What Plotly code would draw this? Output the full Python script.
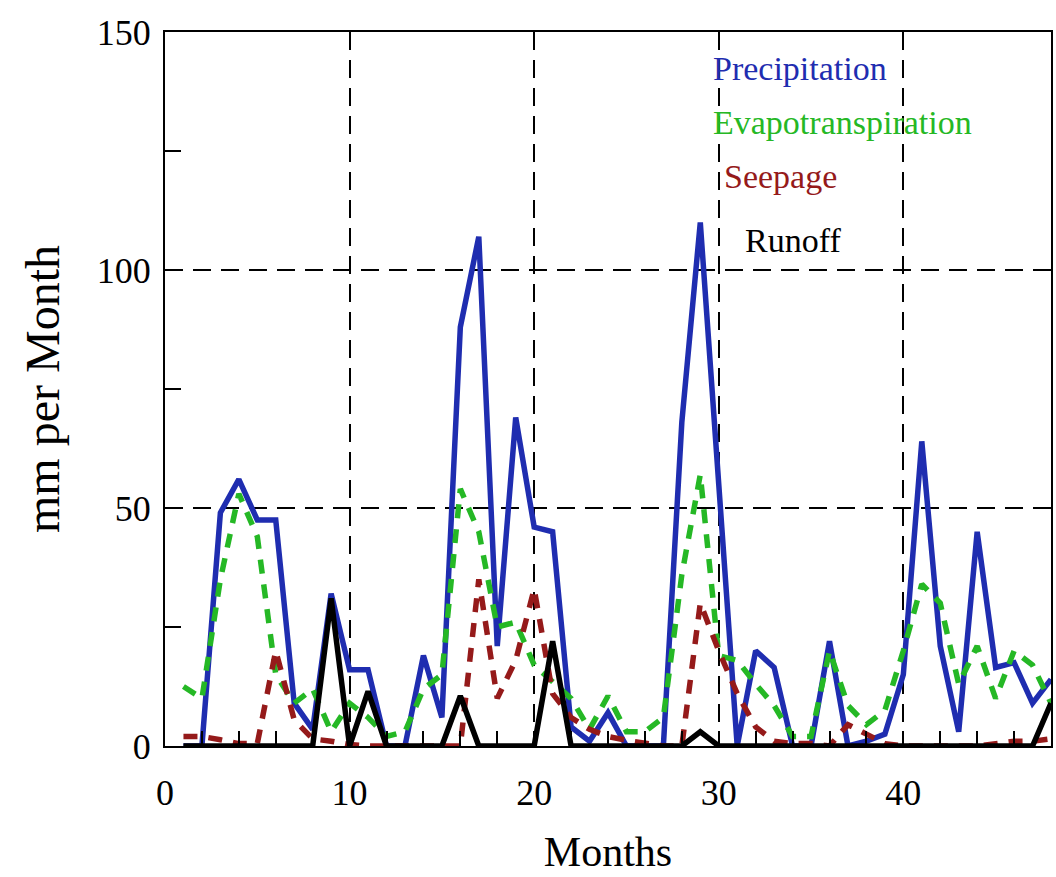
import plotly.graph_objects as go

months = list(range(1, 49))

precipitation = [0, 0, 49, 56, 47.5, 47.5, 9, 3.5, 32, 16,
                 16, 0, 0, 19, 6, 88, 107, 21, 69, 46,
                 45, 4, 1, 7, 0, 0, 0, 68, 110, 55,
                 0, 20, 16.5, 0, 0, 22, 0, 1, 2.5, 15,
                 64, 21, 3, 45, 16.5, 17.5, 9, 14]

evapotranspiration = [12.5, 10, 35, 53, 44, 15, 9, 12, 3, 9,
                      6, 2, 3, 12, 15, 54, 45, 25, 26, 17,
                      13.5, 10, 3.5, 10.5, 3, 3, 6, 36, 57, 19,
                      18, 13, 8.5, 2, 2, 20, 8.5, 4.5, 7.5, 20,
                      34, 30, 13, 21, 10, 20, 17, 9]

seepage = [2, 2, 1.3, 0.5, 0.5, 20, 5.5, 1.5, 1, 0.3,
           0, 0, 0, 0, 0, 0, 35, 10, 18, 33,
           11, 6, 3.5, 2, 1.2, 0.5, 0, 0, 30, 20,
           11, 4, 1, 0.5, 0.5, 0, 4.5, 2.5, 0.5, 0,
           0, 0, 0, 0, 0.5, 1, 1, 1.5]

runoff = [0, 0, 0, 0, 0, 0, 0, 0, 31, 0,
          11.5, 0, 0, 0, 0, 10.5, 0, 0, 0, 0,
          22, 0, 0, 0, 0, 0, 0, 0, 3, 0,
          0, 0, 0, 0, 0, 0, 0, 0, 0, 0,
          0, 0, 0, 0, 0, 0, 0, 9]

x_ticks = [0, 10, 20, 30, 40]
y_ticks = [0, 50, 100, 150]

BLUE = "#1f2db0"
GREEN = "#25b825"
RED = "#951a1a"
BLACK = "#000000"
SERIF = "Liberation Serif, Times New Roman, serif"

fig = go.Figure()
fig.add_trace(go.Scatter(x=months, y=precipitation, mode="lines",
                         line=dict(color=BLUE, width=5.5), name="Precipitation"))
fig.add_trace(go.Scatter(x=months, y=evapotranspiration, mode="lines",
                         line=dict(color=GREEN, width=5.5, dash="14px,11px"),
                         name="Evapotranspiration"))
fig.add_trace(go.Scatter(x=months, y=seepage, mode="lines",
                         line=dict(color=RED, width=5.5, dash="14px,11px"),
                         name="Seepage"))
fig.add_trace(go.Scatter(x=months, y=runoff, mode="lines",
                         line=dict(color=BLACK, width=5.5), name="Runoff"))

legend_items = [
    ("Precipitation", BLUE, 29.6, 142.4),
    ("Evapotranspiration", GREEN, 29.6, 131.0),
    ("Seepage", RED, 30.2, 119.7),
    ("Runoff", BLACK, 31.3, 106.3),
]
for text, color, ax_x, ax_y in legend_items:
    fig.add_annotation(x=ax_x, y=ax_y, xref="x", yref="y", text=text,
                       showarrow=False, xanchor="left", yanchor="middle",
                       font=dict(family=SERIF, size=34, color=color))

fig.update_layout(
    width=1056, height=877,
    margin=dict(l=165, r=3, t=32, b=131),
    paper_bgcolor="white", plot_bgcolor="white",
    showlegend=False,
    font=dict(family=SERIF, color="black"),
)
fig.update_xaxes(
    range=[0, 48], tickvals=x_ticks, ticktext=[str(v) for v in x_ticks],
    showline=True, linecolor="black", linewidth=2, mirror=True,
    ticks="inside", ticklen=15, tickcolor="black", tickwidth=1.5,
    showgrid=True, gridcolor="black", gridwidth=1.5, griddash="18px,10px",
    zeroline=False,
    minor=dict(dtick=2, tick0=0, ticks="inside", ticklen=15, tickcolor="black",
               tickwidth=1.5, showgrid=False),
    tickfont=dict(family=SERIF, size=36, color="black"),
    ticklabelstandoff=14,
    title=dict(text="Months", font=dict(family=SERIF, size=42, color="black"),
               standoff=24),
)
fig.update_yaxes(
    range=[0, 150], tickvals=y_ticks, ticktext=[str(v) for v in y_ticks],
    showline=True, linecolor="black", linewidth=2, mirror=True,
    ticks="inside", ticklen=15, tickcolor="black", tickwidth=1.5,
    showgrid=True, gridcolor="black", gridwidth=1.5, griddash="18px,10px",
    zeroline=False,
    minor=dict(dtick=25, tick0=0, ticks="inside", ticklen=16, tickcolor="black",
               tickwidth=1.5, showgrid=False),
    tickfont=dict(family=SERIF, size=36, color="black"),
    ticklabelstandoff=5,
    title=dict(text="mm per Month", font=dict(family=SERIF, size=48, color="black"),
               standoff=22),
)

fig.write_html("out.html")
